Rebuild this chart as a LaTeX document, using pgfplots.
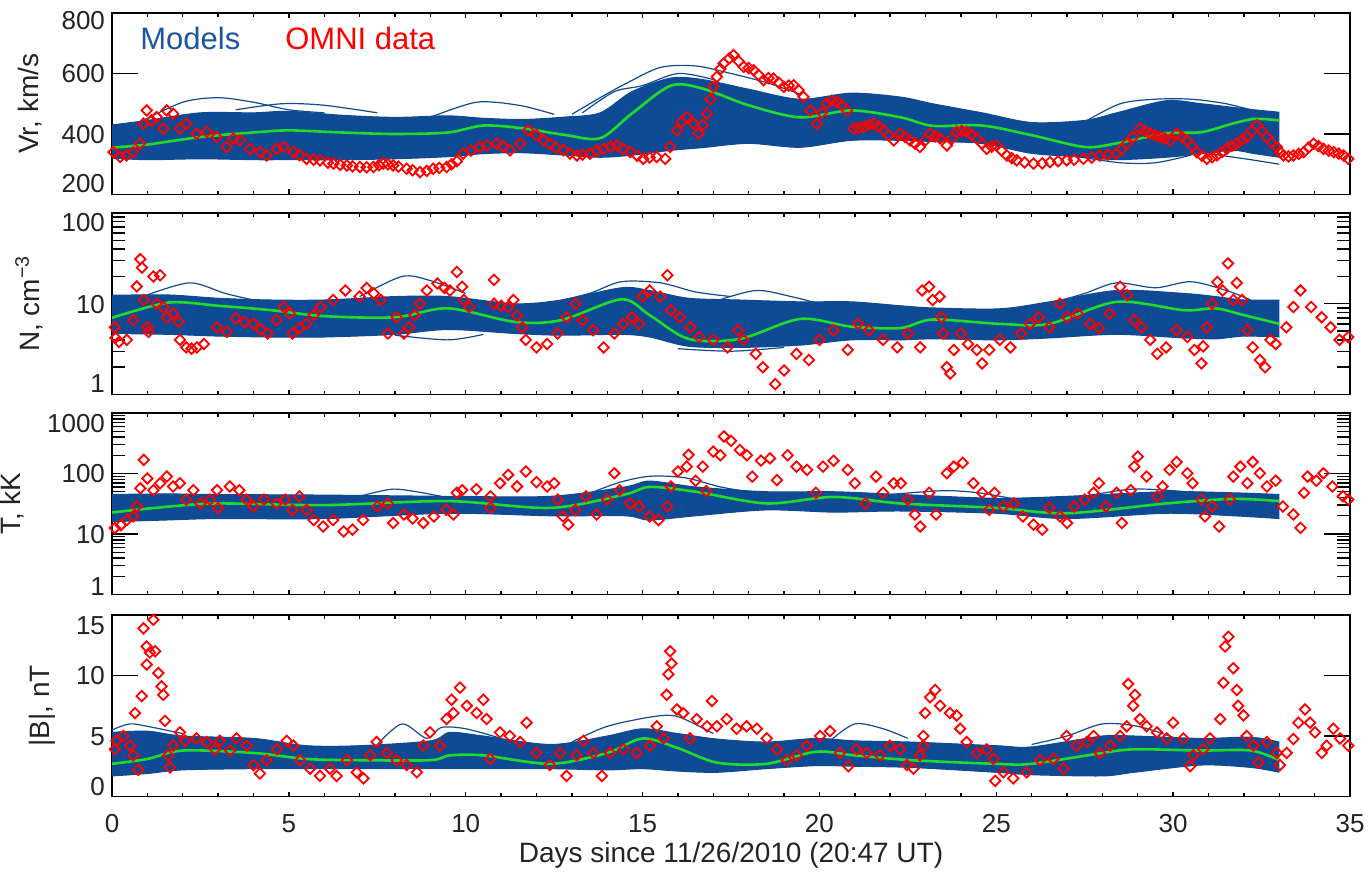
\documentclass[border=0pt]{standalone}
\usepackage{pgfplots}
\usepackage{pgfplotstable}
\pgfplotsset{compat=1.18}
\usepgfplotslibrary{fillbetween}
\usepackage{fontspec}
\setmainfont{Liberation Sans}
\definecolor{modblue}{RGB}{15,75,148}
\definecolor{legblue}{RGB}{30,85,160}
\definecolor{medgreen}{RGB}{30,220,40}
\definecolor{omnired}{RGB}{255,0,0}
\definecolor{txt}{RGB}{35,35,35}
\newcommand{\ylab}[2]{\smash{\raisebox{#1}{#2}}}

\pgfplotstableread{
x lo hi med
0 320 430 355
1 315 445 365
2.5 318 470 390
4 315 470 405
5 315 475 412
6.5 315 462 405
8 318 455 400
9.5 325 460 405
10.5 335 452 428
11.6 338 448 419
12.8 330 456 397
13.8 323 470 386
14.7 330 540 468
15.8 346 585 560
16.7 355 580 550
18.0 369 548 495
19.45 356 515 455
20.9 379 535 478
22.3 379 522 455
23.2 375 500 427
24.6 369 470 428
26.0 336 438 396
27.5 323 445 357
28.4 315 470 369
29.8 323 510 402
30.8 335 500 406
31.7 346 488 435
32.3 335 480 450
33 323 472 445
}\bandV

\pgfplotstableread{
x lo hi med
0 4.7 12.4 7.0
1.6 4.6 12.5 10.3
3 4.4 11.5 9.5
4.5 4.3 11 8.5
6 4.3 11 7.3
8 4.6 12 7.1
9.5 5.2 12 8.9
11.4 4.7 10 6.3
12.7 4.5 11 6.6
14.4 4.6 15 11.2
15.2 4.3 14 7.5
16.3 3.4 11.5 4.1
17.75 3.3 11 4.1
19.45 3.5 10.5 6.8
20.9 4.0 10.5 5.6
22.3 4.0 9.5 5.4
23.2 4.1 9 6.7
25.1 4.0 8.8 6.0
26.5 4.2 10.5 6.0
28.4 4.6 14 10.5
30.3 4.2 13 8.5
31.2 4.1 12 8.9
32 4.4 11 7.5
33 4.3 11 6.0
}\bandN

\pgfplotstableread{
x lo hi med
0 16 45 22.7
1.5 17 46 28
3 18 45 32
6 18 44 30
9.5 22 42 35
12.4 20 42 27
14.5 20 60 45
15.2 17 75 60
16.5 20 60 50
18.5 25 50 32
20.4 23 50 41
22.3 24 45 32
25 22 39 27
27 18 42 22
29.8 22 50 32
31.7 20 48 38
33 18 45 35
}\bandT

\pgfplotstableread{
x lo hi med
0 1.7 5.3 2.7
1 1.9 5.4 3.1
2 2.2 5.0 3.8
4 2.3 4.8 3.6
5.5 2.3 4.2 3.1
7 2.3 4.2 3.0
9 2.3 4.6 3.0
9.55 2.3 5.3 3.4
10.5 2.3 5.0 3.4
12.4 2.3 4.3 2.7
14 2.2 5.0 3.6
15 2.3 5.6 4.8
16 2.1 5.2 4.0
17.1 2.0 4.75 2.8
18.5 2.3 4.5 2.7
19.9 2.55 4.8 3.7
21 2.5 4.6 3.4
22.6 2.4 4.5 3.0
25 2.0 4.2 2.7
26 1.8 4.1 2.7
28 1.7 5.0 3.6
28.9 2.0 5.0 3.9
30.8 2.6 4.8 3.8
32.2 2.4 4.9 3.8
33 2.0 4.5 3.0
}\bandB

\pgfplotsset{
  panel/.style={
    scale only axis, width=619pt, height=90.75pt,
    xmin=0, xmax=35, xtick={0,5,...,35}, minor x tick num=4,
    xticklabels={},
    tick align=inside,
    axis line style={line width=0.9pt, black},
    xtick style={black, line width=0.7pt, /pgfplots/major tick length=2.5pt, /pgfplots/minor tick length=1.8pt},
    ytick style={black, line width=0.7pt, /pgfplots/major tick length=13pt, /pgfplots/minor tick length=6.5pt},
    tick label style={font=\fontsize{13}{15}\selectfont, text=txt},
    yticklabel style={anchor=east},
    label style={font=\fontsize{14}{16}\selectfont, text=txt, inner sep=0pt},
    /pgf/number format/assume math mode=true,
  },
  omni/.style={only marks, mark=square, mark size=1.85pt,
    mark options={rotate=45, draw=omnired, line width=0.9pt, fill=none}},
  outl/.style={modblue, line width=0.6pt, smooth},
  env/.style={modblue, line width=0.5pt, smooth},
  medl/.style={medgreen, line width=1.3pt, smooth},
}

\begin{document}
\begin{tikzpicture}

% ---------------- Panel 1: Vr
\begin{axis}[panel, at={(0,0)}, anchor=north west,
  ymin=200, ymax=800, ytick={200,400,600,800},
  yticklabels={\ylab{0.85pt}{200},\ylab{-4.65pt}{400},\ylab{-4.65pt}{600},\ylab{-8.2pt}{800}},
  ylabel={Vr, km/s},
  ylabel style={at={(axis description cs:-0.0662,0.5)}, anchor=center}]
\addplot[env, name path=vh] table[x=x,y=hi]{\bandV};
\addplot[env, name path=vl] table[x=x,y=lo]{\bandV};
\addplot[modblue] fill between[of=vh and vl];
\addplot[outl] coordinates {(0.8,440) (2.0,505) (3.0,520) (4.0,505) (5.0,480) (6.0,470)};
\addplot[outl] coordinates {(3.5,480) (4.8,500) (6.0,495) (7.5,470)};
\addplot[outl] coordinates {(9.0,455) (10.3,505) (11.5,495) (12.5,465)};
\addplot[outl] coordinates {(13.0,465) (13.8,520) (14.5,565) (15.5,620) (16.5,625) (17.5,600) (18.5,570) (19.5,530)};
\addplot[outl] coordinates {(13.3,470) (14.2,540) (15,560) (16,600) (17,580)};
\addplot[outl] coordinates {(20,495) (21.2,510) (22.3,505) (23.5,470) (24.5,440) (25.5,420)};
\addplot[outl] coordinates {(27.5,440) (28.5,500) (29.5,515) (30.5,515) (31.5,500) (32.5,470)};
\addplot[outl] coordinates {(24.5,370) (26,345) (27,330) (28.5,305) (29.5,305) (30.5,330)};
\addplot[outl] coordinates {(31,335) (32.2,315) (33,300)};
\addplot[medl] table[x=x,y=med]{\bandV};
\addplot[omni] table {
0.04 340
0.23 324
0.41 329
0.6 340
0.79 368
0.89 434
0.98 478
1.12 445
1.26 456
1.45 418
1.55 478
1.73 467
1.92 418
2.1 434
2.39 401
2.68 407
2.96 390
3.24 357
3.43 385
3.62 379
3.9 351
4.19 340
4.37 329
4.66 351
4.85 357
5.13 340
5.3 330
5.5 318
5.7 315
5.88 313
6.1 305
6.26 302
6.45 298
6.64 296
6.8 293
7.01 291
7.2 290
7.39 291
7.55 297
7.67 302
7.8 300
7.95 296
8.1 292
8.33 285
8.5 280
8.71 274
8.9 278
9.08 285
9.25 288
9.46 291
9.6 300
9.75 310
9.93 335
10.15 345
10.4 357
10.6 362
10.87 368
11.05 360
11.25 346
11.54 368
11.77 412
12.0 396
12.2 380
12.38 368
12.55 355
12.76 346
12.95 335
13.14 329
13.3 332
13.51 335
13.7 345
13.89 351
14.1 358
14.27 362
14.45 350
14.65 340
14.85 328
15.02 318
15.2 322
15.4 324
15.64 318
15.78 357
15.97 412
16.1 440
16.25 456
16.44 434
16.58 401
16.7 430
16.82 467
16.92 515
17.0 556
17.1 589
17.2 615
17.29 633
17.45 650
17.57 661
17.72 640
17.86 622
18.0 618
18.14 611
18.28 595
18.42 578
18.56 585
18.7 583
18.85 570
18.99 556
19.13 560
19.27 561
19.41 545
19.55 523
19.74 478
19.93 434
20.07 470
20.21 501
20.35 510
20.5 506
20.64 495
20.78 478
20.97 418
21.1 420
21.25 423
21.4 430
21.54 434
21.68 425
21.82 412
21.96 395
22.1 379
22.28 401
22.42 390
22.56 379
22.7 368
22.84 357
23.0 380
23.13 401
23.27 392
23.41 385
23.6 362
23.75 385
23.88 407
24.02 410
24.16 407
24.3 398
24.45 385
24.6 368
24.73 351
24.87 358
25.01 362
25.15 345
25.3 329
25.44 320
25.58 313
25.8 306
26.05 302
26.3 303
26.52 307
26.75 310
26.99 313
27.2 315
27.46 318
27.7 322
27.93 329
28.15 332
28.4 335
28.55 350
28.69 368
28.87 390
29.06 418
29.2 410
29.35 401
29.49 395
29.63 390
29.77 385
29.91 379
30.1 401
30.25 390
30.39 379
30.53 360
30.67 340
30.81 328
30.95 318
31.1 323
31.24 329
31.38 340
31.52 351
31.66 360
31.8 368
31.94 380
32.08 390
32.22 410
32.37 429
32.51 410
32.65 390
32.79 372
32.93 357
33.02 340
33.12 329
33.26 326
33.4 329
33.55 334
33.69 340
33.83 355
33.97 368
34.11 360
34.25 351
34.4 345
34.54 340
34.68 335
34.82 329
34.95 318
};
\node[anchor=west, inner sep=0pt, text=legblue, font=\fontsize{15.5}{18}\selectfont] at (rel axis cs:0.0226,0.862) {Models};
\node[anchor=west, inner sep=0pt, text=omnired, font=\fontsize{15.5}{18}\selectfont] at (rel axis cs:0.1397,0.862) {OMNI data};
\end{axis}

% ---------------- Panel 2: N
\begin{axis}[panel, at={(0,-100pt)}, anchor=north west,
  ymode=log, ymin=1, ymax=100, ytick={1,10,100},
  yticklabels={\ylab{0.85pt}{1},\ylab{-4.65pt}{10},\ylab{-9.15pt}{100}},
  ylabel={N, cm\textsuperscript{−3}},
  ylabel style={at={(axis description cs:-0.067,0.5)}, anchor=center}]
\addplot[env, name path=nh] table[x=x,y=hi]{\bandN};
\addplot[env, name path=nl] table[x=x,y=lo]{\bandN};
\addplot[modblue] fill between[of=nh and nl];
\addplot[outl] coordinates {(1.0,12.5) (2.2,17) (3.2,13) (4,11)};
\addplot[outl] coordinates {(7.0,12) (8.2,20) (9.0,18) (10,13)};
\addplot[outl] coordinates {(12.5,10.5) (13.5,13) (14.4,17.5) (15.5,17) (16.5,13.5) (17.5,12)};
\addplot[outl] coordinates {(17,10.5) (18.2,14) (19.2,12) (20,10)};
\addplot[outl] coordinates {(26.5,10) (27.5,13) (28.4,17) (29.5,15) (30.5,17.5) (31.5,14) (32.2,11)};
\addplot[outl] coordinates {(8,4.5) (9.5,4.0) (10.5,4.6)};
\addplot[outl] coordinates {(16,3.2) (17.5,3.0) (19,3.3)};
\addplot[medl] table[x=x,y=med]{\bandN};
\addplot[omni] table {
0.08 5.5
0.1 4.2
0.2 3.8
0.42 4.0
0.6 6.6
0.7 15.5
0.8 31
0.85 25
0.9 11
1.0 5.5
1.03 4.9
1.17 20
1.27 10
1.36 20.6
1.45 9.2
1.55 7.1
1.73 7.8
1.88 6.3
1.92 4.0
2.1 3.3
2.25 3.2
2.4 3.3
2.6 3.6
2.97 5.5
3.25 4.9
3.5 6.9
3.75 6.3
4.0 6.0
4.2 5.2
4.4 4.7
4.65 6.6
4.85 9.2
5.03 7.8
5.1 4.7
5.3 5.4
5.5 6.0
5.7 7.5
5.9 9.2
6.25 11
6.6 14
7.0 12
7.2 14.9
7.4 13
7.6 11
7.8 4.7
8.05 7.1
8.25 4.7
8.4 5.5
8.55 7.5
8.7 10
8.9 14
9.2 16.7
9.4 15
9.55 14
9.75 22.4
9.9 15.4
9.95 11
10.1 9.2
10.8 18.3
10.8 10
11.0 9.5
11.2 9.2
11.35 11
11.45 7.4
11.6 5.5
11.7 4.0
12.0 3.3
12.3 3.6
12.6 4.7
12.85 7.1
13.1 10
13.3 6.6
13.6 5.1
13.9 3.3
14.2 4.7
14.45 6.0
14.7 7.1
14.9 6.0
15.0 12
15.2 14
15.5 12
15.7 20.6
15.8 8.5
16.05 7.1
16.35 5.5
16.6 4.3
17.0 4.0
17.4 3.3
17.7 5.1
17.85 4.0
18.2 2.8
18.4 2.0
18.75 1.3
19.0 1.84
19.35 2.8
19.7 2.4
20.0 4.0
20.4 5.1
20.8 3.1
21.1 6.0
21.4 5.1
21.8 4.0
22.2 3.3
22.5 4.7
22.85 3.3
22.9 14
23.1 15.4
23.2 11
23.4 12
23.45 7.1
23.5 4.7
23.6 2.0
23.7 1.7
23.8 3.1
24.0 4.7
24.2 3.6
24.45 3.1
24.6 2.2
24.8 3.1
25.1 4.0
25.4 3.3
25.7 4.7
25.95 6.0
26.2 7.1
26.5 5.5
26.8 10
27.0 7.1
27.3 7.8
27.65 6.0
27.9 5.4
28.2 7.8
28.5 15.4
28.7 12.4
28.9 6.6
29.1 5.5
29.35 4.0
29.55 2.8
29.8 3.3
30.1 5.1
30.4 4.3
30.6 3.1
30.8 2.2
30.85 3.4
30.95 5.5
31.1 10
31.25 17.4
31.4 14
31.55 27.8
31.7 11
31.8 17
31.95 11
32.1 5.1
32.25 3.3
32.45 2.4
32.6 2.0
32.75 4.0
32.9 3.6
33.2 5.5
33.4 9.2
33.6 14
33.9 9.2
34.2 7.1
34.45 5.5
34.7 4.0
34.95 4.3
};
\end{axis}

% ---------------- Panel 3: T
\begin{axis}[panel, at={(0,-200pt)}, anchor=north west,
  ymode=log, ymin=1, ymax=1000, ytick={1,10,100,1000},
  yticklabels={\ylab{-0.65pt}{1},\ylab{-4.65pt}{10},\ylab{-4.65pt}{100},\ylab{-9.65pt}{1000}},
  ylabel={T, kK},
  ylabel style={at={(axis description cs:-0.0804,0.5)}, anchor=center}]
\addplot[env, name path=th] table[x=x,y=hi]{\bandT};
\addplot[env, name path=tl] table[x=x,y=lo]{\bandT};
\addplot[modblue] fill between[of=th and tl];
\addplot[outl] coordinates {(7,42) (7.9,55) (8.6,50) (9.3,42)};
\addplot[outl] coordinates {(13.3,42) (14.3,70) (15.2,90) (16.2,85) (17.2,60) (18,50)};
\addplot[outl] coordinates {(22,45) (23.5,52) (24.5,48) (25.5,38)};
\addplot[outl] coordinates {(27.5,42) (28.8,55) (30,52) (31.2,45)};
\addplot[medl] table[x=x,y=med]{\bandT};
\addplot[omni] table {
0.08 12.6
0.25 14
0.42 17
0.6 19.5
0.7 28.5
0.8 57
0.9 168
1.0 83
1.17 53
1.36 69
1.55 89
1.73 61
1.92 69
2.1 37
2.3 53
2.5 32
2.77 37
2.97 53
3.0 27
3.33 61
3.6 53
3.8 37
4.0 28.5
4.3 37
4.65 32
4.9 37
5.1 25
5.3 42
5.5 25
5.7 17
5.97 13.3
6.25 17
6.55 11
6.8 11.8
7.1 17
7.5 28.5
7.8 32
7.95 15.2
8.25 21
8.5 18
8.8 15.2
9.1 19.5
9.45 25
9.65 21
9.75 48
9.9 53
10.3 55
10.7 42
10.7 27
10.97 69
11.2 95
11.45 61
11.7 108
12.0 72
12.3 61
12.5 69
12.6 37
12.75 19.5
12.9 14.3
13.1 25
13.4 42
13.7 21
14.0 37
14.2 101
14.35 53
14.65 32
14.9 28.5
15.2 19.5
15.45 17
15.7 28.5
15.8 61
16.0 108
16.25 130
16.3 204
16.5 76
16.7 130
16.8 51
17.0 230
17.2 200
17.3 410
17.5 345
17.75 245
17.95 200
18.1 89
18.35 163
18.6 178
18.8 78
19.1 200
19.35 130
19.65 115
19.9 48
20.1 130
20.4 163
20.8 115
21.0 69
21.3 32
21.6 89
21.8 48
22.1 69
22.3 69
22.5 37
22.7 21
22.85 13.3
23.1 48
23.3 21
23.6 101
23.8 130
24.05 150
24.35 69
24.6 48
24.8 25
24.95 48
25.2 28.5
25.5 32
25.75 19.5
26.05 14.3
26.3 11.8
26.5 27
26.8 19.5
27.0 15.2
27.2 28.5
27.5 37
27.75 48
27.9 69
28.1 28.5
28.4 48
28.55 15.2
28.8 53
28.9 130
29.0 190
29.25 89
29.55 42
29.7 61
29.9 115
30.1 155
30.4 101
30.55 69
30.8 37
30.9 19.5
31.1 28.5
31.3 13.3
31.6 37
31.7 89
31.9 130
32.1 69
32.25 155
32.45 101
32.65 61
32.9 76
33.1 28.5
33.4 21
33.6 12.6
33.7 48
33.8 89
34.05 76
34.25 101
34.5 61
34.8 42
34.95 37
};
\end{axis}

% ---------------- Panel 4: |B|
\begin{axis}[panel, at={(0,-301pt)}, anchor=north west,
  ymin=0, ymax=15, ytick={0,5,10,15},
  yticklabels={\ylab{0.35pt}{0},\ylab{-4.65pt}{5},\ylab{-4.65pt}{10},\ylab{-9.65pt}{15}},
  xticklabels={0,5,10,15,20,25,30,35},
  xticklabel style={anchor=center, inner sep=0pt, yshift=-13.5pt},
  xlabel={Days since 11/26/2010 (20:47 UT)},
  xlabel style={at={(axis description cs:0.5,0)}, anchor=center, yshift=-29.5pt},
  ylabel={|B|, nT},
  ylabel style={at={(axis description cs:-0.0561,0.5)}, anchor=center}]
\addplot[env, name path=bh] table[x=x,y=hi]{\bandB};
\addplot[env, name path=bl] table[x=x,y=lo]{\bandB};
\addplot[modblue] fill between[of=bh and bl];
\addplot[outl] coordinates {(0,5.5) (0.5,6.0) (1.0,5.8) (2,5.2)};
\addplot[outl] coordinates {(7.5,4.3) (8.2,6.0) (8.9,4.8) (9.3,5.7) (10,5.6) (11,4.8)};
\addplot[outl] coordinates {(13,4.5) (14,5.8) (15.3,6.6) (16,6.6) (17,5.2)};
\addplot[outl] coordinates {(20.3,4.6) (21,6.0) (21.8,5.6) (22.5,4.8)};
\addplot[outl] coordinates {(26,4.3) (27,5.0) (28,6.0) (29,5.8) (30,4.9)};
\addplot[medl] table[x=x,y=med]{\bandB};
\addplot[omni] table {
0.08 3.9
0.13 4.6
0.32 5.0
0.51 4.2
0.6 3.4
0.65 6.9
0.74 2.2
0.84 8.3
0.89 13.9
0.98 12.4
0.98 10.9
1.07 11.9
1.17 14.6
1.22 12.0
1.31 10.2
1.4 9.1
1.45 8.4
1.5 6.25
1.59 3.4
1.64 2.4
1.73 4.2
1.92 5.3
2.07 4.6
2.39 4.8
2.68 4.5
2.91 3.9
3.05 4.6
3.34 3.8
3.52 4.8
3.81 4.2
4.0 2.6
4.18 1.9
4.37 3.0
4.66 3.9
4.94 4.6
5.13 4.2
5.32 3.0
5.6 2.3
5.88 1.7
6.16 2.3
6.35 1.7
6.64 3.0
6.92 2.0
7.11 1.5
7.3 3.4
7.48 4.5
7.77 3.6
8.05 3.0
8.33 2.6
8.62 2.0
8.8 4.2
8.99 5.3
9.27 4.2
9.46 6.4
9.6 8.0
9.65 6.9
9.84 9.0
10.03 7.5
10.31 6.9
10.5 8.0
10.59 6.4
10.69 3.1
10.97 5.3
11.25 5.0
11.54 4.5
11.72 6.1
12.0 3.6
12.38 2.6
12.67 3.6
12.85 1.7
13.14 3.4
13.33 4.6
13.61 3.6
13.85 1.7
14.08 3.6
14.46 3.9
14.83 3.6
15.21 4.2
15.4 5.8
15.59 4.8
15.68 8.4
15.73 10.1
15.78 12.0
15.82 11.0
15.97 7.2
16.15 6.9
16.34 4.8
16.53 6.4
16.82 5.8
16.96 7.9
17.1 5.8
17.38 6.4
17.66 5.6
17.94 5.8
18.23 5.6
18.51 4.8
18.8 3.9
19.08 3.0
19.36 3.4
19.64 4.2
20.02 5.0
20.3 5.4
20.58 3.6
20.82 2.5
21.05 3.9
21.34 3.6
21.71 3.4
21.99 4.2
22.28 3.9
22.47 2.6
22.66 2.3
22.84 3.4
22.94 4.2
22.94 5.0
22.99 6.9
23.13 8.2
23.27 8.8
23.41 7.5
23.69 6.9
23.88 6.7
23.98 5.6
24.16 4.5
24.45 3.6
24.73 3.9
24.92 3.1
24.97 1.3
25.2 2.0
25.48 1.5
25.86 2.0
26.24 3.0
26.61 3.1
26.9 2.3
26.99 5.0
27.27 4.2
27.56 4.5
27.75 5.0
27.93 3.6
28.22 4.2
28.5 5.0
28.69 5.8
28.73 9.3
28.87 7.5
28.92 8.4
29.06 6.4
29.25 5.8
29.54 5.3
29.82 4.8
30.0 6.1
30.29 4.8
30.48 2.5
30.57 3.4
30.85 3.9
31.04 4.8
31.33 6.4
31.42 9.4
31.47 12.4
31.56 13.2
31.7 10.6
31.8 8.8
31.84 7.5
31.99 6.7
32.08 5.0
32.27 4.2
32.41 2.8
32.65 4.5
32.93 3.6
33.02 2.6
33.21 3.6
33.4 4.75
33.54 6.1
33.73 7.2
33.87 6.1
34.01 5.3
34.2 3.6
34.34 4.2
34.53 5.6
34.72 4.8
34.95 4.2
};
\end{axis}
\pgfresetboundingbox
\path (-56pt,6.5pt) rectangle (629pt,-429.5pt);
\end{tikzpicture}
\end{document}
